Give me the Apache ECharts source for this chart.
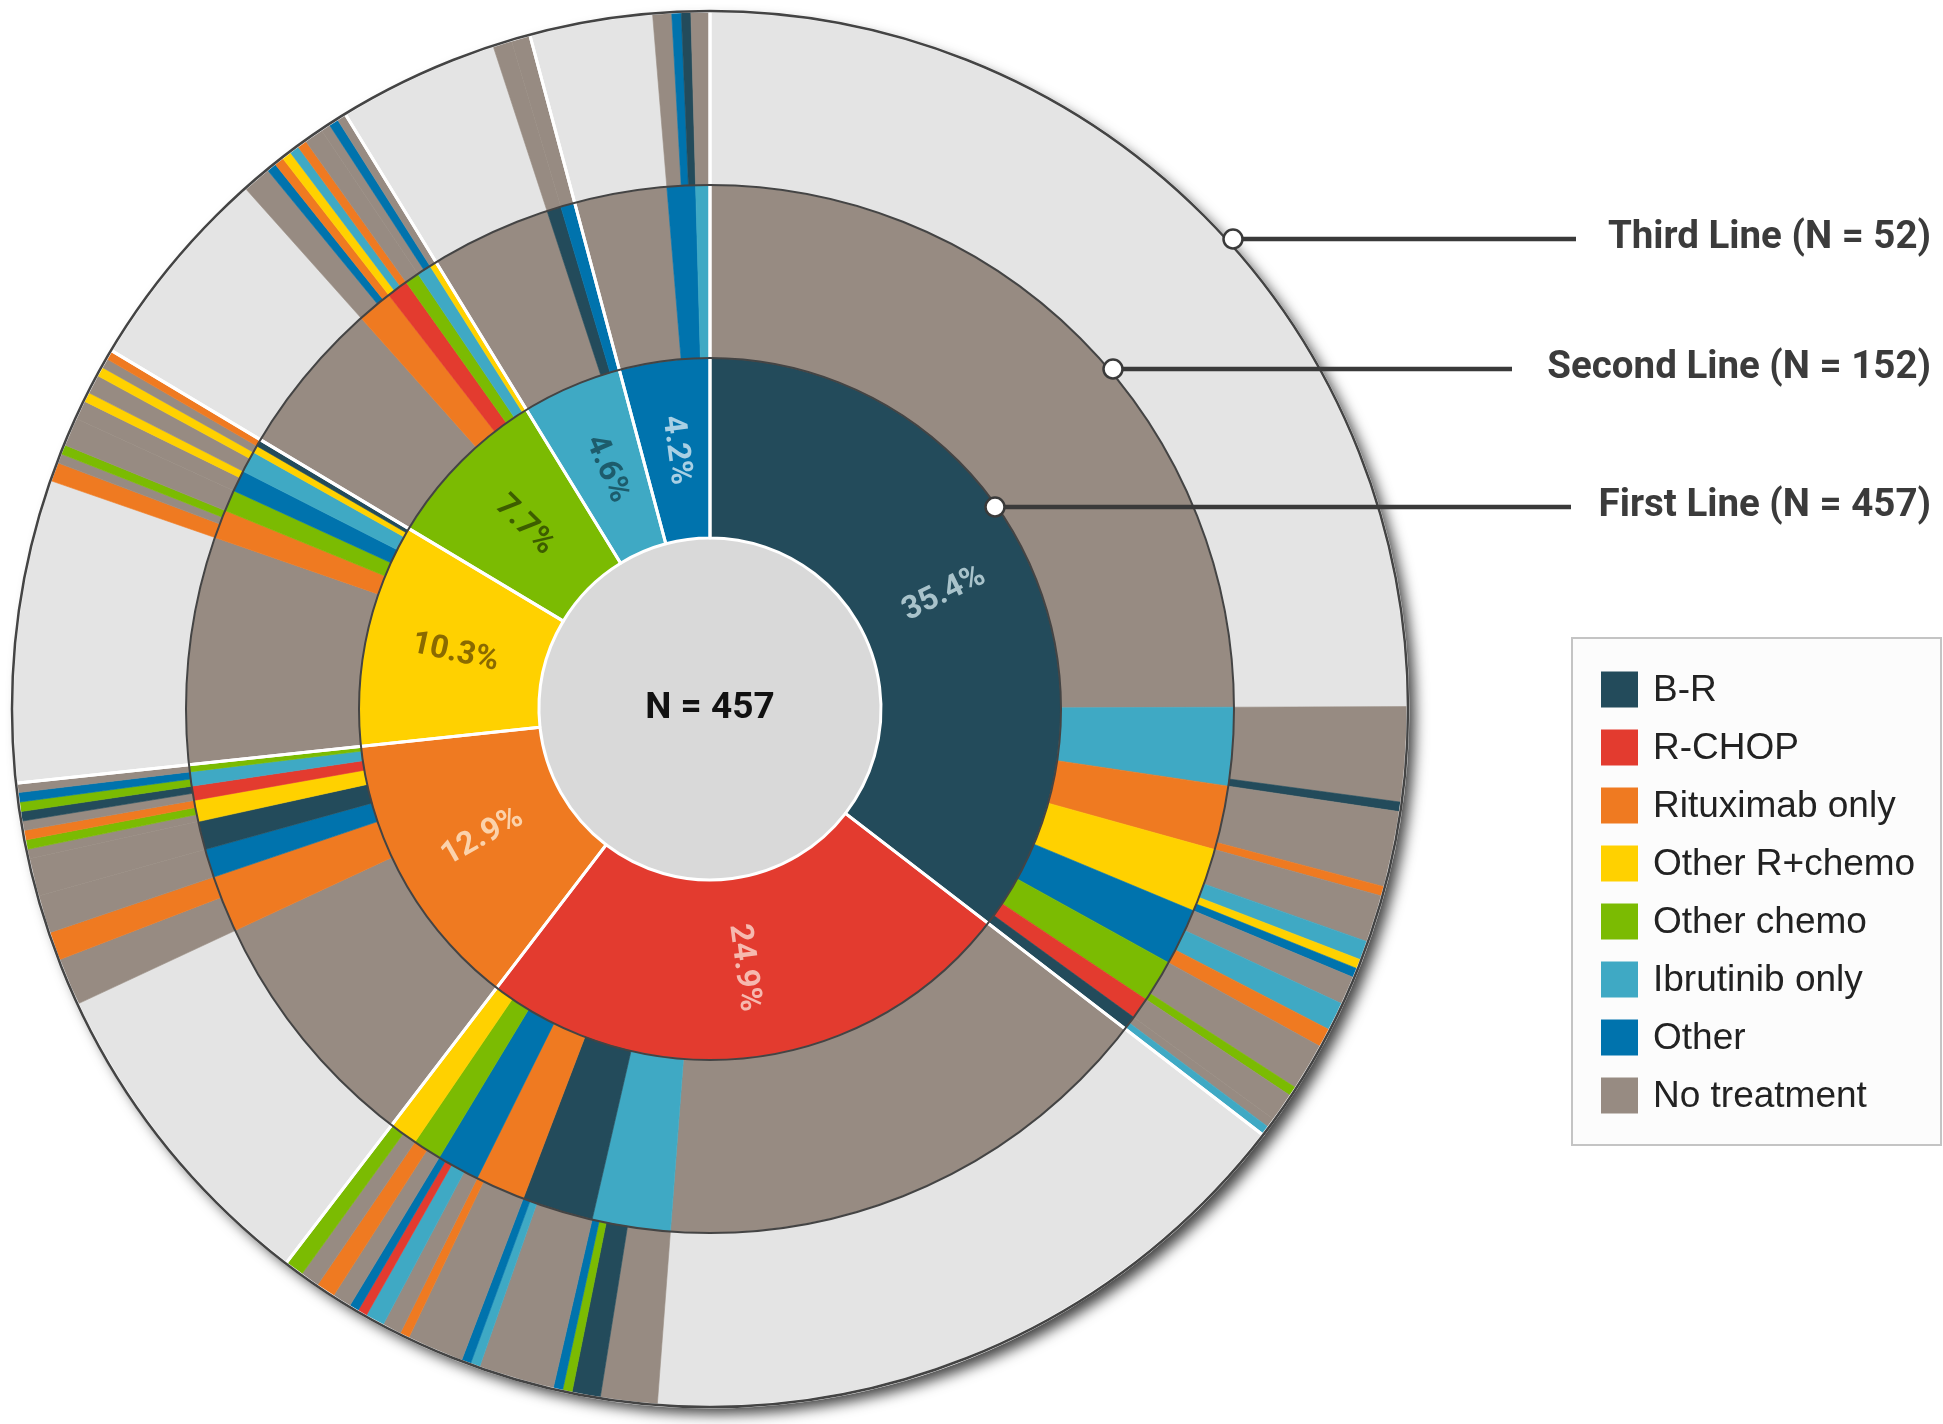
<!DOCTYPE html>
<html><head><meta charset="utf-8">
<script src="https://cdn.jsdelivr.net/npm/echarts@6/dist/echarts.min.js"></script>
<style>html,body{margin:0;padding:0;background:#fff}#chart{width:1943px;height:1424px}</style>
</head><body><div id="chart"></div>
<script>
// ---- First line (patients, N = 457) ----
const firstNames = ['B-R', 'R-CHOP', 'Rituximab only', 'Other R+chemo', 'Other chemo', 'Ibrutinib only', 'Other'];
const firstCounts = [162, 114, 59, 47, 35, 21, 19];
const pctColors = ['#a9c3cb', '#f6b9af', '#fbd2ab', '#8a6a00', '#3d5d00', '#1d5c6c', '#a9d0e4'];

// ---- Second line per first-line group: [treatment, patients] ----
const secondBR = [['No treatment', 114], ['Ibrutinib only', 11], ['Rituximab only', 9], ['Other R+chemo', 9], ['Other', 8], ['Other chemo', 6], ['R-CHOP', 3], ['B-R', 2]];
const secondRCHOP = [['No treatment', 72], ['Ibrutinib only', 11], ['B-R', 10], ['Rituximab only', 7], ['Other', 6], ['Other chemo', 4], ['Other R+chemo', 4]];
const secondRit = [['No treatment', 35], ['Rituximab only', 8], ['Other', 4], ['B-R', 4], ['Other R+chemo', 3], ['R-CHOP', 2], ['Ibrutinib only', 2], ['Other chemo', 1]];
const secondORC = [['No treatment', 32], ['Rituximab only', 4], ['Other chemo', 3], ['Other', 3], ['Ibrutinib only', 3], ['Other R+chemo', 1], ['B-R', 1]];
const secondOC = [['No treatment', 22], ['Rituximab only', 5], ['R-CHOP', 3], ['Other chemo', 2], ['Ibrutinib only', 2], ['Other R+chemo', 1]];
const secondIbr = [['No treatment', 17], ['B-R', 2], ['Other', 2]];
const secondOther = [['No treatment', 13], ['Other', 4], ['Ibrutinib only', 2]];

// ---- Third line per group: [second-line treatment, third-line treatment, patients] ----
const thirdBR = [
  ['Ibrutinib only', 'No treatment', 10], ['Ibrutinib only', 'B-R', 1],
  ['Rituximab only', 'No treatment', 8], ['Rituximab only', 'Rituximab only', 1],
  ['Other R+chemo', 'No treatment', 5], ['Other R+chemo', 'Ibrutinib only', 2], ['Other R+chemo', 'Other R+chemo', 1], ['Other R+chemo', 'Other', 1],
  ['Other', 'No treatment', 3], ['Other', 'Ibrutinib only', 3], ['Other', 'Rituximab only', 2],
  ['Other chemo', 'No treatment', 5], ['Other chemo', 'Other chemo', 1],
  ['R-CHOP', 'No treatment', 3],
  ['B-R', 'No treatment', 1], ['B-R', 'Ibrutinib only', 1]
];
const thirdRCHOP = [
  ['Ibrutinib only', 'No treatment', 6], ['Ibrutinib only', 'B-R', 3], ['Ibrutinib only', 'Other chemo', 1], ['Ibrutinib only', 'Other', 1],
  ['B-R', 'No treatment', 8], ['B-R', 'Ibrutinib only', 1], ['B-R', 'Other', 1],
  ['Rituximab only', 'No treatment', 6], ['Rituximab only', 'Rituximab only', 1],
  ['Other', 'No treatment', 2], ['Other', 'Ibrutinib only', 2], ['Other', 'R-CHOP', 1], ['Other', 'Other', 1],
  ['Other chemo', 'No treatment', 2], ['Other chemo', 'Rituximab only', 2],
  ['Other R+chemo', 'No treatment', 2], ['Other R+chemo', 'Other chemo', 2]
];
const thirdRit = [
  ['Rituximab only', 'No treatment', 5], ['Rituximab only', 'Rituximab only', 3],
  ['Other', 'No treatment', 4],
  ['B-R', 'No treatment', 4],
  ['Other R+chemo', 'No treatment', 1], ['Other R+chemo', 'Other chemo', 1], ['Other R+chemo', 'Rituximab only', 1],
  ['R-CHOP', 'No treatment', 1], ['R-CHOP', 'B-R', 1],
  ['Ibrutinib only', 'Other chemo', 1], ['Ibrutinib only', 'Other', 1],
  ['Other chemo', 'No treatment', 1]
];
const thirdORC = [
  ['Rituximab only', 'Rituximab only', 2], ['Rituximab only', 'No treatment', 1], ['Rituximab only', 'Other chemo', 1],
  ['Other chemo', 'No treatment', 3],
  ['Other', 'No treatment', 2], ['Other', 'Other R+chemo', 1],
  ['Ibrutinib only', 'No treatment', 2], ['Ibrutinib only', 'Other R+chemo', 1],
  ['Other R+chemo', 'No treatment', 1],
  ['B-R', 'Rituximab only', 1]
];
const thirdOC = [
  ['Rituximab only', 'No treatment', 3], ['Rituximab only', 'Other', 1], ['Rituximab only', 'Rituximab only', 1],
  ['R-CHOP', 'Other R+chemo', 1], ['R-CHOP', 'Ibrutinib only', 1], ['R-CHOP', 'Rituximab only', 1],
  ['Other chemo', 'No treatment', 2],
  ['Ibrutinib only', 'No treatment', 1], ['Ibrutinib only', 'Other', 1],
  ['Other R+chemo', 'No treatment', 1]
];
const thirdIbr = [['B-R', 'No treatment', 2], ['Other', 'No treatment', 2]];
const thirdOther = [
  ['Other', 'No treatment', 2], ['Other', 'Other', 1], ['Other', 'B-R', 1],
  ['Ibrutinib only', 'No treatment', 2]
];

const lineLabels = ['Third Line (N = 52)', 'Second Line (N = 152)', 'First Line (N = 457)'];
const legendNames = ['B-R', 'R-CHOP', 'Rituximab only', 'Other R+chemo', 'Other chemo', 'Ibrutinib only', 'Other', 'No treatment'];

const colorMap = {
  'B-R': '#234b5b', 'R-CHOP': '#e33b2f', 'Rituximab only': '#ef7a21', 'Other R+chemo': '#ffd100',
  'Other chemo': '#7bbb02', 'Ibrutinib only': '#3fa9c4', 'Other': '#0073ad', 'No treatment': '#978b82'
};
const noneColor = '#e4e4e4';

const secondAll = [secondBR, secondRCHOP, secondRit, secondORC, secondOC, secondIbr, secondOther];
const thirdAll = [thirdBR, thirdRCHOP, thirdRit, thirdORC, thirdOC, thirdIbr, thirdOther];
const total = firstCounts.reduce((a, b) => a + b, 0);

function leaf(name, value, color) {
  return { name, value, itemStyle: { color, borderColor: color, borderWidth: 0.6 } };
}
const firstNodes = firstNames.map((fn, i) => ({
  name: fn,
  value: firstCounts[i],
  itemStyle: { color: colorMap[fn], borderWidth: 0 },
  label: { color: pctColors[i] },
  children: secondAll[i].map(([sn, sc]) => {
    const kids = sn === 'No treatment'
      ? [leaf('none', sc, noneColor)]
      : thirdAll[i].filter(t => t[0] === sn).map(t => leaf(t[1], t[2], colorMap[t[1]]));
    const node = leaf(sn, sc, colorMap[sn]);
    node.children = kids;
    return node;
  })
}));

const CX = 710, CY = 709;
const R0 = 171, R1 = 351, R2 = 524, R3 = 698;

const chart = echarts.init(document.getElementById('chart'));

const graphics = [];
graphics.push({ type: 'circle', z: -5, shape: { cx: CX, cy: CY, r: R3 - 1 },
  style: { fill: '#ffffff', shadowBlur: 14, shadowOffsetX: 8, shadowOffsetY: 8, shadowColor: 'rgba(0,0,0,0.75)' } });
[[R1, 2], [R2, 2], [R3, 2.5]].forEach(([r, w]) => graphics.push({ type: 'circle', z: 50, silent: true, shape: { cx: CX, cy: CY, r },
  style: { fill: null, stroke: '#444', lineWidth: w } }));

// annotation callouts
const callouts = [
  { dot: [1233, 239], end: 1576, ty: 238 },
  { dot: [1113, 369], end: 1512, ty: 368 },
  { dot: [995, 507], end: 1571, ty: 506 }
];
callouts.forEach((c, i) => {
  graphics.push({ type: 'line', z: 60, shape: { x1: c.dot[0], y1: c.dot[1], x2: c.end, y2: c.dot[1] },
    style: { stroke: '#3a3a3a', lineWidth: 4.5 } });
  graphics.push({ type: 'circle', z: 61, shape: { cx: c.dot[0], cy: c.dot[1], r: 9.5 },
    style: { fill: '#fff', stroke: '#3a3a3a', lineWidth: 2.5 } });
  graphics.push({ type: 'text', z: 61, style: { text: lineLabels[i], x: 1931, y: c.ty,
    font: 'bold 38.5px Roboto', fill: '#3b3b3b', textAlign: 'right', align: 'right', textVerticalAlign: 'middle', verticalAlign: 'middle' } });
});

// legend box
graphics.push({ type: 'rect', z: 60, shape: { x: 1572, y: 638, width: 369, height: 507 },
  style: { fill: '#fcfcfc', stroke: '#c4c4c4', lineWidth: 2 } });
legendNames.forEach((n, i) => {
  const cy = 689.5 + i * 58;
  graphics.push({ type: 'rect', z: 61, shape: { x: 1601, y: cy - 18, width: 37, height: 36 },
    style: { fill: colorMap[n] } });
  graphics.push({ type: 'text', z: 61, style: { text: n, x: 1653, y: cy + 1,
    font: '37px "Liberation Sans"', fill: '#222', textAlign: 'left', align: 'left', textVerticalAlign: 'middle', verticalAlign: 'middle' } });
});

chart.setOption({
  animation: false,
  graphic: { elements: graphics },
  series: [
    {
      type: 'sunburst',
      center: [CX, CY],
      radius: [0, R3],
      sort: null,
      nodeClick: false,
      startAngle: 90,
      emphasis: { disabled: true },
      data: [{
        name: 'N = ' + total,
        value: total,
        itemStyle: { color: '#d9d9d9', borderWidth: 0 },
        label: { formatter: '{b}', rotate: 0, fontSize: 37, fontWeight: 'bold', color: '#111', fontFamily: 'Roboto' },
        children: firstNodes
      }],
      levels: [
        {},
        { r0: 0, r: R0 },
        { r0: R0, r: R1, label: { show: true, rotate: 'radial', fontSize: 32, fontWeight: 'bold', fontFamily: 'Roboto',
            formatter: p => (p.value / total * 100).toFixed(1) + '%' } },
        { r0: R1, r: R2, label: { show: false } },
        { r0: R2, r: R3, label: { show: false } }
      ]
    },
    {
      type: 'pie',
      z: 5,
      center: [CX, CY],
      radius: [R0, R3],
      startAngle: 90,
      clockwise: true,
      silent: true,
      emphasis: { disabled: true },
      label: { show: false },
      labelLine: { show: false },
      itemStyle: { color: 'rgba(0,0,0,0)', borderColor: '#ffffff', borderWidth: 3 },
      data: firstCounts.map((v, i) => ({ name: firstNames[i], value: v }))
    }
  ]
});
</script>
</body></html>
